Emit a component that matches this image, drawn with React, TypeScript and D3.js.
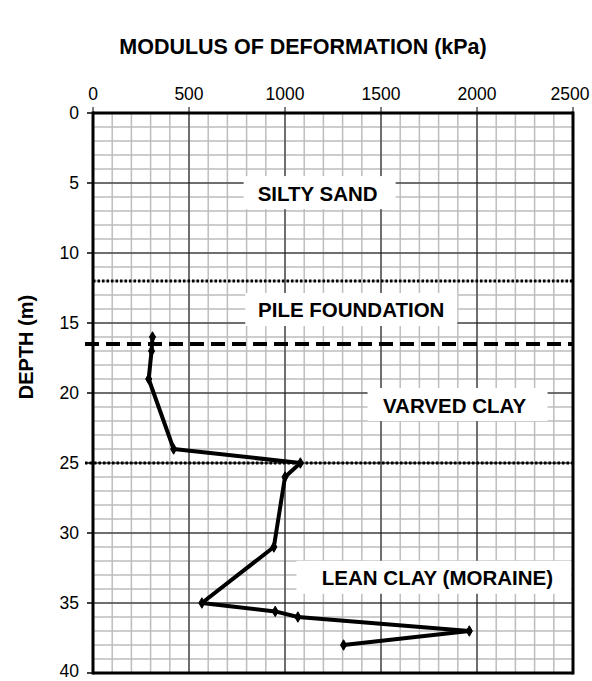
import React from "react";
import * as d3 from "d3";

const depths = [16, 17, 19, 24, 25, 26, 31, 35, 35.6, 36, 37, 38];
const moduli = [310, 305, 290, 420, 1080, 1000, 942, 567, 949, 1067, 1960, 1305];
const xTicks = [0, 500, 1000, 1500, 2000, 2500];
const yTicks = [0, 5, 10, 15, 20, 25, 30, 35, 40];
const layerNames = ["SILTY SAND", "PILE FOUNDATION", "VARVED CLAY", "LEAN CLAY (MORAINE)"];
const layerDepths = [5.72, 14.07, 20.86, 33.2];
const layerModuli = [1170, 1345, 1883, 1794];
const boundaryDepths = [12, 16.5, 25];
const boundaryKinds = ["dotted", "dashed", "dotted"];

const W = 592;
const H = 681;
const FONT = "'Liberation Sans', Arial, sans-serif";

export default function App() {
  const x = d3.scaleLinear().domain([0, 2500]).range([93, 573]);
  const y = d3.scaleLinear().domain([0, 40]).range([113, 673]);
  const minorX = d3.range(0, 2501, 100);
  const minorY = d3.range(0, 41, 1);
  const pts = depths.map((d, i) => [moduli[i], d] as [number, number]);
  const line = d3
    .line<[number, number]>()
    .x((p) => x(p[0]))
    .y((p) => y(p[1]));
  const diamond = d3.symbol().type(d3.symbolDiamond).size(32)();

  // label boxes: width and horizontal offset of box centre from text centre
  const boxW = [152, 212, 180, 282];
  const boxDx = [2, 0, 3, 0];

  return (
    <svg width={W} height={H} style={{ position: "absolute", left: 0, top: 0 }}>
      <rect x={0} y={0} width={W} height={H} fill="#fff" />
      {/* minor grid */}
      {minorX.map((v) => (
        <line key={"mx" + v} x1={x(v)} x2={x(v)} y1={y(0)} y2={y(40)} stroke="#bdbdbd" strokeWidth={1.5} />
      ))}
      {minorY.map((v) => (
        <line key={"my" + v} x1={x(0)} x2={x(2500)} y1={y(v)} y2={y(v)} stroke="#bdbdbd" strokeWidth={1.5} />
      ))}
      {/* major grid */}
      {xTicks.map((v) => (
        <line key={"Mx" + v} x1={x(v)} x2={x(v)} y1={y(0)} y2={y(40)} stroke="#111" strokeWidth={1} />
      ))}
      {yTicks.map((v) => (
        <line key={"My" + v} x1={x(0)} x2={x(2500)} y1={y(v)} y2={y(v)} stroke="#111" strokeWidth={1} />
      ))}
      {/* label boxes */}
      {layerNames.map((n, i) => (
        <rect
          key={"b" + n}
          x={Math.max(x(0) + 2, x(layerModuli[i]) + boxDx[i] - boxW[i] / 2)}
          y={y(layerDepths[i]) - 17}
          width={Math.min(boxW[i], x(2500) - 2 - (x(layerModuli[i]) + boxDx[i] - boxW[i] / 2))}
          height={33}
          fill="#fff"
        />
      ))}
      {layerNames.map((n, i) => (
        <text
          key={"t" + n}
          x={x(layerModuli[i])}
          y={y(layerDepths[i])}
          textAnchor="middle"
          dominantBaseline="central"
          fontFamily={FONT}
          fontWeight="bold"
          fontSize={20.5}
          fill="#000"
        >
          {n}
        </text>
      ))}
      {/* boundaries */}
      {boundaryDepths.map((d, i) => (
        <line
          key={"bd" + i}
          x1={i === 0 ? x(0) : 85}
          x2={x(2500)}
          y1={y(d)}
          y2={y(d)}
          stroke="#000"
          strokeWidth={boundaryKinds[i] === "dashed" ? 4 : 3}
          strokeDasharray={boundaryKinds[i] === "dashed" ? "14 7" : "2.5 2"}
        />
      ))}
      {/* frame */}
      <line x1={x(0)} x2={x(0)} y1={y(0) - 1.5} y2={y(40) + 1.5} stroke="#000" strokeWidth={3} />
      <line x1={x(2500)} x2={x(2500)} y1={y(0) - 1.5} y2={y(40) + 1.5} stroke="#000" strokeWidth={3} />
      <line x1={x(0)} x2={x(2500)} y1={y(0)} y2={y(0)} stroke="#000" strokeWidth={3} />
      <line x1={x(0)} x2={x(2500)} y1={y(40)} y2={y(40)} stroke="#000" strokeWidth={3} />
      {/* ticks */}
      {xTicks.map((v) => (
        <line key={"tx" + v} x1={x(v)} x2={x(v)} y1={y(0) - 6} y2={y(0)} stroke="#000" strokeWidth={1} />
      ))}
      {yTicks.map((v) => (
        <line key={"ty" + v} x1={x(0) - 6} x2={x(0)} y1={y(v)} y2={y(v)} stroke="#000" strokeWidth={1.5} />
      ))}
      {xTicks.map((v) => (
        <text
          key={"lx" + v}
          x={Math.min(x(v), 570)}
          y={y(0) - 13}
          textAnchor="middle"
          fontFamily={FONT}
          fontSize={17.5}
          fill="#000"
        >
          {v}
        </text>
      ))}
      {yTicks.map((v) => (
        <text
          key={"ly" + v}
          x={x(0) - 14}
          y={Math.min(y(v), 671)}
          textAnchor="end"
          dominantBaseline="central"
          fontFamily={FONT}
          fontSize={17.5}
          fill="#000"
        >
          {v}
        </text>
      ))}
      {/* data */}
      <path d={line(pts) || ""} fill="none" stroke="#000" strokeWidth={4} strokeLinejoin="round" />
      {pts.map((p, i) => (
        <path key={"p" + i} d={diamond || ""} transform={`translate(${x(p[0])},${y(p[1])})`} fill="#000" stroke="#000" strokeWidth={1} />
      ))}
      {/* titles */}
      <text x={303} y={47} textAnchor="middle" dominantBaseline="central" fontFamily={FONT} fontWeight="bold" fontSize={21.5} fill="#000">
        MODULUS OF DEFORMATION (kPa)
      </text>
      <text
        transform={`translate(26,${347}) rotate(-90)`}
        textAnchor="middle"
        dominantBaseline="central"
        fontFamily={FONT}
        fontWeight="bold"
        fontSize={20}
        fill="#000"
      >
        DEPTH (m)
      </text>
    </svg>
  );
}
